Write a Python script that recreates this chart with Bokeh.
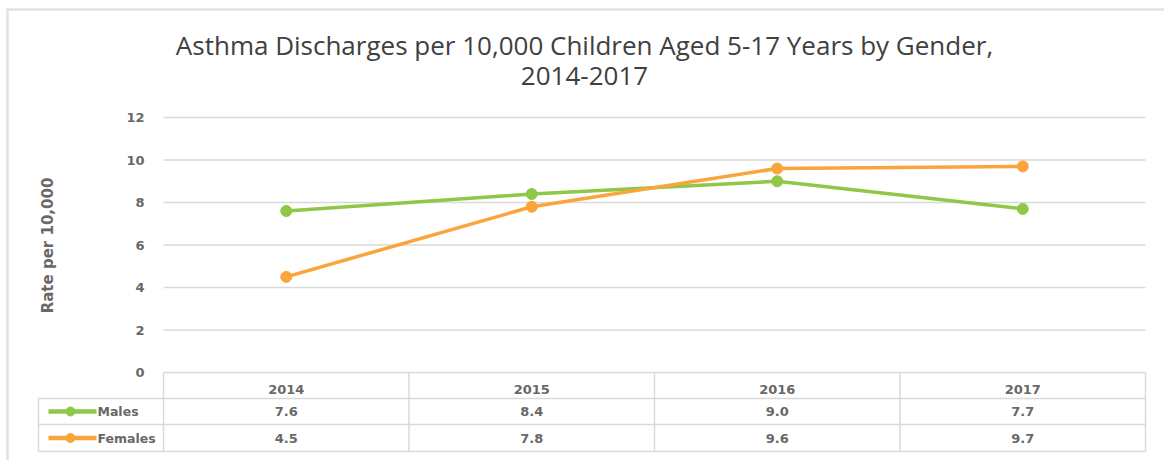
import math
from bokeh.plotting import figure
from bokeh.models import Range1d, FixedTicker
from bokeh.embed import file_html
from bokeh.resources import INLINE
from bokeh.core.properties import value

# ---- data ----
years = ["2014", "2015", "2016", "2017"]
males = [7.6, 8.4, 9.0, 7.7]
females = [4.5, 7.8, 9.6, 9.7]
y_ticks = [0, 2, 4, 6, 8, 10, 12]
series_names = ["Males", "Females"]
title_lines = ["Asthma Discharges per 10,000 Children Aged 5-17 Years by Gender,", "2014-2017"]
y_label = "Rate per 10,000"

GREEN = "#8fc747"
ORANGE = "#f9a53c"
GRID = "#d9d9d9"
FRAME = "#e2e2e2"
TXT = "#686868"
FONT = "DejaVu Sans"
TFONT = "Open Sans"

n = len(years)
xs = [i + 0.5 for i in range(n)]

W, H = 1164, 460

# layout helpers (screen pixels -> data units)
PXX = 245.5   # px per category column
PXY = 21.25   # px per y unit
X0 = 163      # screen x of first column edge
Y0 = 372      # screen y of value 0


def ux(px):
    return (px - X0) / PXX


def uy(py):
    return (Y0 - py) / PXY


hdr_bot = uy(398)
m_bot = uy(424)
f_bot = uy(451)
leg_left = ux(38)

p = figure(width=W, height=H, output_backend="svg", toolbar_location=None,
           x_range=Range1d(ux(0), ux(W)), y_range=Range1d(uy(H), uy(0)),
           min_border_left=0, min_border_right=0, min_border_top=0, min_border_bottom=0)
p.outline_line_color = None
p.xgrid.visible = False
p.ygrid.visible = False
p.title.visible = False

# outer chart border (top and left)
p.segment(x0=[ux(6), ux(7)], x1=[ux(W), ux(7)], y0=[uy(9), uy(9)], y1=[uy(9), uy(H)],
          line_color=FRAME, line_width=2.5)

# title
p.text(x=[ux(584), ux(584)], y=[uy(44), uy(75)], text=title_lines,
       text_align="center", text_baseline="middle", text_font=value(TFONT),
       text_font_size="26px", text_color="#404040")

# y axis title
p.text(x=[ux(47)], y=[uy(245)], text=[y_label], angle=math.pi / 2,
       text_align="center", text_baseline="middle", text_font=value(FONT),
       text_font_size="15px", text_font_style="bold", text_color=TXT)

# gridlines (only across data columns)
grid_y = [t for t in y_ticks if t > 0]
p.segment(x0=[0] * len(grid_y), x1=[n] * len(grid_y), y0=grid_y, y1=grid_y,
          line_color=GRID, line_width=1.5)

# table lines
h_y = [0, hdr_bot, m_bot, f_bot]
h_x0 = [0, leg_left, leg_left, leg_left]
p.segment(x0=h_x0, x1=[n] * 4, y0=h_y, y1=h_y, line_color=GRID, line_width=1.5)
v_x = list(range(n + 1))
p.segment(x0=v_x, x1=v_x, y0=[0] * len(v_x), y1=[f_bot] * len(v_x), line_color=GRID, line_width=1.5)
p.segment(x0=[leg_left], x1=[leg_left], y0=[hdr_bot], y1=[f_bot], line_color=GRID, line_width=1.5)

# series lines
for vals, col in [(males, GREEN), (females, ORANGE)]:
    p.line(xs, vals, line_color=col, line_width=3.5)
    p.scatter(xs, vals, size=11, fill_color=col, line_color=col)

# table values
m_y = (hdr_bot + m_bot) / 2
f_y = (m_bot + f_bot) / 2
p.text(x=xs + xs, y=[m_y] * n + [f_y] * n,
       text=[f"{v:.1f}" for v in males] + [f"{v:.1f}" for v in females],
       text_align="center", text_baseline="middle", text_font=value(FONT),
       text_font_size="13px", text_font_style="bold", text_color=TXT)

# legend keys inside table
for yy, col in [(m_y, GREEN), (f_y, ORANGE)]:
    p.line([ux(48), ux(96)], [yy, yy], line_color=col, line_width=4.5)
    p.scatter([ux(70)], [yy], size=9, fill_color=col, line_color=col)
p.text(x=[ux(97)] * 2, y=[m_y, f_y], text=series_names,
       text_align="left", text_baseline="middle", text_font=value(FONT),
       text_font_size="12.5px", text_font_style="bold", text_color=TXT)

# axes
p.yaxis.fixed_location = 0
p.yaxis.ticker = FixedTicker(ticks=y_ticks)
p.yaxis.axis_line_color = None
p.yaxis.major_tick_line_color = None
p.yaxis.minor_tick_line_color = None
p.yaxis.major_label_standoff = 13
p.yaxis.major_label_text_font = FONT
p.yaxis.major_label_text_font_size = "13px"
p.yaxis.major_label_text_font_style = "bold"
p.yaxis.major_label_text_color = TXT

p.xaxis.fixed_location = 0
p.xaxis.ticker = FixedTicker(ticks=xs)
p.xaxis.major_label_overrides = {x: y for x, y in zip(xs, years)}
p.xaxis.axis_line_color = None
p.xaxis.major_tick_line_color = None
p.xaxis.minor_tick_line_color = None
p.xaxis.major_label_standoff = 6
p.xaxis.major_label_text_font = FONT
p.xaxis.major_label_text_font_size = "13px"
p.xaxis.major_label_text_font_style = "bold"
p.xaxis.major_label_text_color = TXT

open("out.html", "w").write(file_html(p, INLINE))
